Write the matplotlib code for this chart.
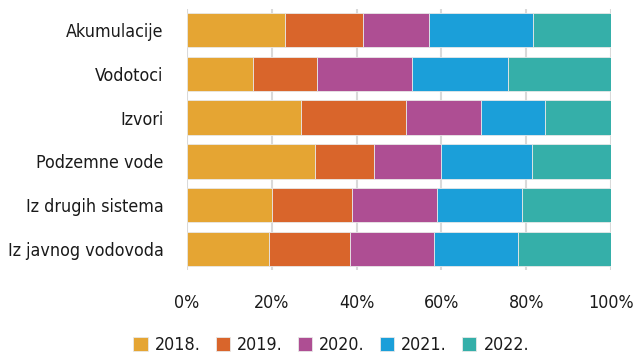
import matplotlib
matplotlib.use("Agg")
import matplotlib.pyplot as plt
from matplotlib.ticker import FuncFormatter

categories = ["Akumulacije", "Vodotoci", "Izvori", "Podzemne vode",
              "Iz drugih sistema", "Iz javnog vodovoda"]
years = ["2018.", "2019.", "2020.", "2021.", "2022."]
shares = {
    "2018.": [23.1, 15.5, 27.0, 30.2, 20.0, 19.3],
    "2019.": [18.3, 15.2, 24.6, 14.0, 18.8, 19.2],
    "2020.": [15.6, 22.4, 17.8, 15.8, 20.2, 19.8],
    "2021.": [24.7, 22.7, 15.1, 21.3, 20.1, 19.8],
    "2022.": [18.3, 24.2, 15.5, 18.7, 20.9, 21.9],
}
colors = ["#E5A533", "#D9652B", "#AE4E93", "#1B9FD9", "#35AFA9"]

plt.rcParams["font.family"] = ["DejaVu Sans"]
plt.rcParams["font.stretch"] = "condensed"
plt.rcParams["text.color"] = "#1a1a1a"

fig = plt.figure(figsize=(6.37, 3.56), dpi=100)
ax = fig.add_axes([0.2936, 0.2416, 0.6656, 0.7331])

ypos = list(range(len(categories)))
left = [0.0] * len(categories)
for year, color in zip(years, colors):
    vals = shares[year]
    ax.barh(ypos, vals, left=left, height=0.79, color=color,
            edgecolor="#e8e8e8", linewidth=0.6, label=year, zorder=3)
    left = [l + v for l, v in zip(left, vals)]

ax.set_xlim(0, 100)
ax.set_ylim(len(categories) - 0.515, -0.485)
ax.set_yticks(ypos)
ax.set_yticklabels(categories, fontsize=12.8)
ax.set_xticks([0, 20, 40, 60, 80, 100])
ax.xaxis.set_major_formatter(FuncFormatter(lambda v, p: f"{v:.0f}%"))
ax.tick_params(axis="x", labelsize=12.8, length=0, pad=17)
ax.tick_params(axis="y", length=0, pad=17)
for lab in ax.get_xticklabels() + ax.get_yticklabels():
    lab.set_color("#1a1a1a")
    lab.set_fontstretch("condensed")

ax.grid(axis="x", color="#d9d9d9", linewidth=1.5, zorder=0)
ax.set_axisbelow(True)
for s in ax.spines.values():
    s.set_visible(False)

leg = fig.legend(loc="lower center", bbox_to_anchor=(0.52, -0.04), ncol=5,
                 frameon=False, fontsize=12.8, handlelength=0.8,
                 handleheight=0.8, handletextpad=0.4, columnspacing=0.85)

fig.savefig("out.png", dpi=100)
